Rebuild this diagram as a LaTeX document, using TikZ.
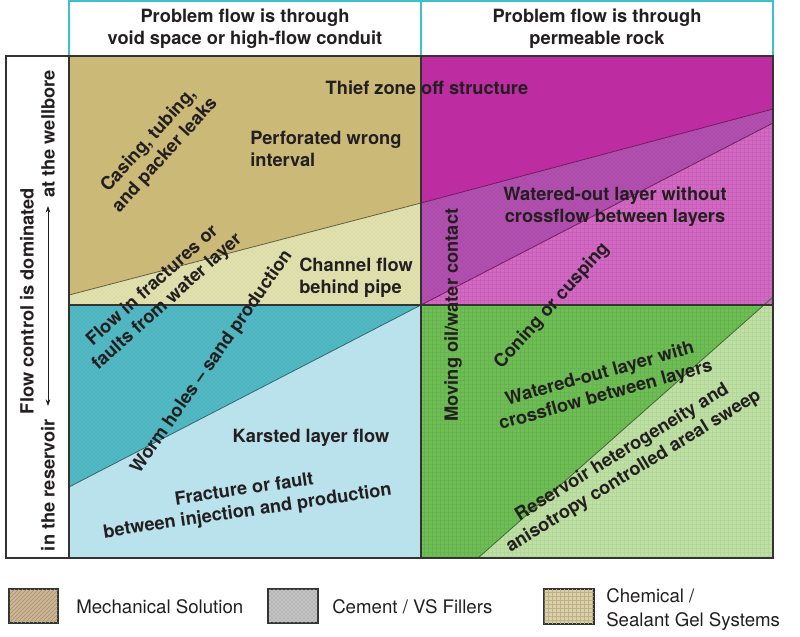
\documentclass[tikz,border=0pt]{standalone}
\usepackage{fontspec}
\setmainfont{TeX Gyre Heros}
\usetikzlibrary{patterns,arrows.meta}
\definecolor{txt}{HTML}{231F20}
\definecolor{mechA}{HTML}{CBB978}
\definecolor{cemA}{HTML}{E2E2AE}
\definecolor{mechB}{HTML}{BD2CA0}
\definecolor{cemB}{HTML}{B24FB0}
\definecolor{chemB}{HTML}{D468C4}
\definecolor{cemC}{HTML}{52BAC4}
\definecolor{chemC}{HTML}{BAE2EC}
\definecolor{chemD}{HTML}{6EBE55}
\definecolor{chemE}{HTML}{BEE0A3}
\definecolor{hdrc}{HTML}{3CC0CC}
\definecolor{framec}{HTML}{333333}
\definecolor{legmech}{HTML}{CDB592}
\definecolor{legcem}{HTML}{B4B4B4}
\definecolor{legchem}{HTML}{DDD0A6}
\tikzset{
  lbl/.style={font=\fontsize{13.7}{16.5}\selectfont\bfseries, text=txt, inner sep=0pt, align=center},
  leg/.style={font=\fontsize{14}{18}\selectfont, text=txt, inner sep=0pt, align=left, anchor=west},
  legbox/.style={draw=framec, line width=1pt},
  gridline/.style={draw=framec, line width=1.5pt},
  hdrbox/.style={draw=hdrc, line width=1.2pt},
  divider/.style={line width=0.6pt},
  cemtex/.style={pattern=crosshatch dots},
  chemtex/.style={pattern=grid}
}
\begin{document}
\begin{tikzpicture}[x=0.75pt,y=-0.75pt]
\useasboundingbox (0,0) rectangle (800,636);
% region fills
\fill[mechA] (69,56) -- (421,56) -- (421,203) -- (69,295) -- cycle;
\fill[cemA] (69,295) -- (421,203) -- (421,305) -- (69,305) -- cycle;
\fill[mechB] (421,56) -- (773,56) -- (773,109) -- (421,203) -- cycle;
\fill[cemB] (421,203) -- (773,109) -- (773,123) -- (421,305) -- cycle;
\fill[chemB] (421,305) -- (773,123) -- (773,305) -- cycle;
\fill[cemC] (69,305) -- (421,305) -- (69,487) -- cycle;
\fill[chemC] (69,487) -- (421,305) -- (421,558) -- (69,558) -- cycle;
\fill[chemD] (421,305) -- (764,305) -- (478,558) -- (421,558) -- cycle;
\fill[chemE] (764,305) -- (773,305) -- (773,558) -- (478,558) -- cycle;
% textures
\path[cemtex, pattern color=cemA!88!black] (69,295) -- (421,203) -- (421,305) -- (69,305) -- cycle;
\path[cemtex, pattern color=cemB!85!black] (421,203) -- (773,109) -- (773,123) -- (421,305) -- cycle;
\path[cemtex, pattern color=cemC!85!black] (69,305) -- (421,305) -- (69,487) -- cycle;
\path[chemtex, pattern color=chemB!93!black] (421,305) -- (773,123) -- (773,305) -- cycle;
\path[chemtex, pattern color=chemD!94!black] (421,305) -- (764,305) -- (478,558) -- (421,558) -- cycle;
\path[chemtex, pattern color=chemE!95!black] (764,305) -- (773,305) -- (773,558) -- (478,558) -- cycle;
% dividing lines inside quadrants
\draw[divider, draw=mechA!50!black] (69,295) -- (421,203);
\draw[divider, draw=mechB!60!black] (421,203) -- (773,109);
\draw[divider, draw=mechB!60!black] (421,305) -- (773,123);
\draw[divider, draw=cemC!55!black] (69,487) -- (421,305);
\draw[divider, draw=chemD!55!black] (478,558) -- (773,297);
% headers
\draw[hdrbox] (69,1) rectangle (421,56);
\draw[hdrbox] (421,1) rectangle (773,56);
% grid
\draw[gridline] (69,56) rectangle (773,558);
\draw[gridline] (421,56) -- (421,558);
\draw[gridline] (69,305) -- (773,305);
\draw[gridline] (6,56) rectangle (69,558);
% header text
\node[lbl] (hl) at (245,29) {Problem flow is through\\void space or high-flow conduit};
\node[lbl] (hr) at (597,29) {Problem flow is through\\permeable rock};
% left axis label
\node[lbl, rotate=90] (fc) at (27,301) {Flow control is dominated};
\node[lbl, rotate=90] (res) at (48,485) {in the reservoir};
\node[lbl, rotate=90] (wb) at (48,134) {at the wellbore};
\coordinate (a1) at (48,406);
\coordinate (a2) at (48,206);
\draw[txt, line width=0.6pt, {Stealth[length=5pt,width=3.5pt]}-{Stealth[length=5pt,width=3.5pt]}] (a1) -- (a2);
% top-left quadrant
\node[lbl, rotate=48] (casing) at (157,148) {Casing, tubing,\\and packer leaks};
\node[lbl, anchor=west, align=left] (perf) at (250,149) {Perforated wrong\\interval};
\node[lbl] (thief) at (427,88) {Thief zone off structure};
\node[lbl, anchor=west, align=left] (chan) at (299,278) {Channel flow\\behind pipe};
\node[lbl, rotate=42] (frac) at (160,294) {Flow in fractures or\\faults from water layer};
% bottom-left quadrant
\node[lbl, rotate=55] (worm) at (212,362) {Worm holes -- sand production};
\node[lbl] (karst) at (311,438) {Karsted layer flow};
\node[lbl, rotate=8.5] (fault) at (246,501) {Fracture or fault\\between injection and production};
% top-right quadrant
\node[lbl] (wonot) at (615,207) {Watered-out layer without\\crossflow between layers};
\node[lbl, rotate=90] (moving) at (453,315) {Moving oil/water contact};
\node[lbl, rotate=48] (coning) at (552,306) {Coning or cusping};
% bottom-right quadrant
\node[lbl, rotate=15.5] (wowith) at (603,385) {Watered-out layer with\\crossflow between layers};
\node[lbl, rotate=31.5] (hetero) at (628,462) {Reservoir heterogeneity and\\anisotropy controlled areal sweep};
% legend
\draw[legbox, fill=legmech] (9,589) rectangle (58,623);
\path[pattern=north east lines, pattern color=legmech!80!black] (9.5,589.5) rectangle (57.5,622.5);
\node[leg] (l1) at (76,607) {Mechanical Solution};
\draw[legbox, fill=legcem] (268,589) rectangle (318,623);
\path[pattern=crosshatch dots, pattern color=white] (268.5,589.5) rectangle (317.5,622.5);
\node[leg] (l2) at (332,607) {Cement / VS Fillers};
\draw[legbox, fill=legchem] (544,589) rectangle (594,624);
\path[pattern=grid, pattern color=legchem!85!black] (544.5,589.5) rectangle (593.5,623.5);
\node[leg] (l3) at (606,610) {Chemical /\\Sealant Gel Systems};
\end{tikzpicture}
\end{document}
